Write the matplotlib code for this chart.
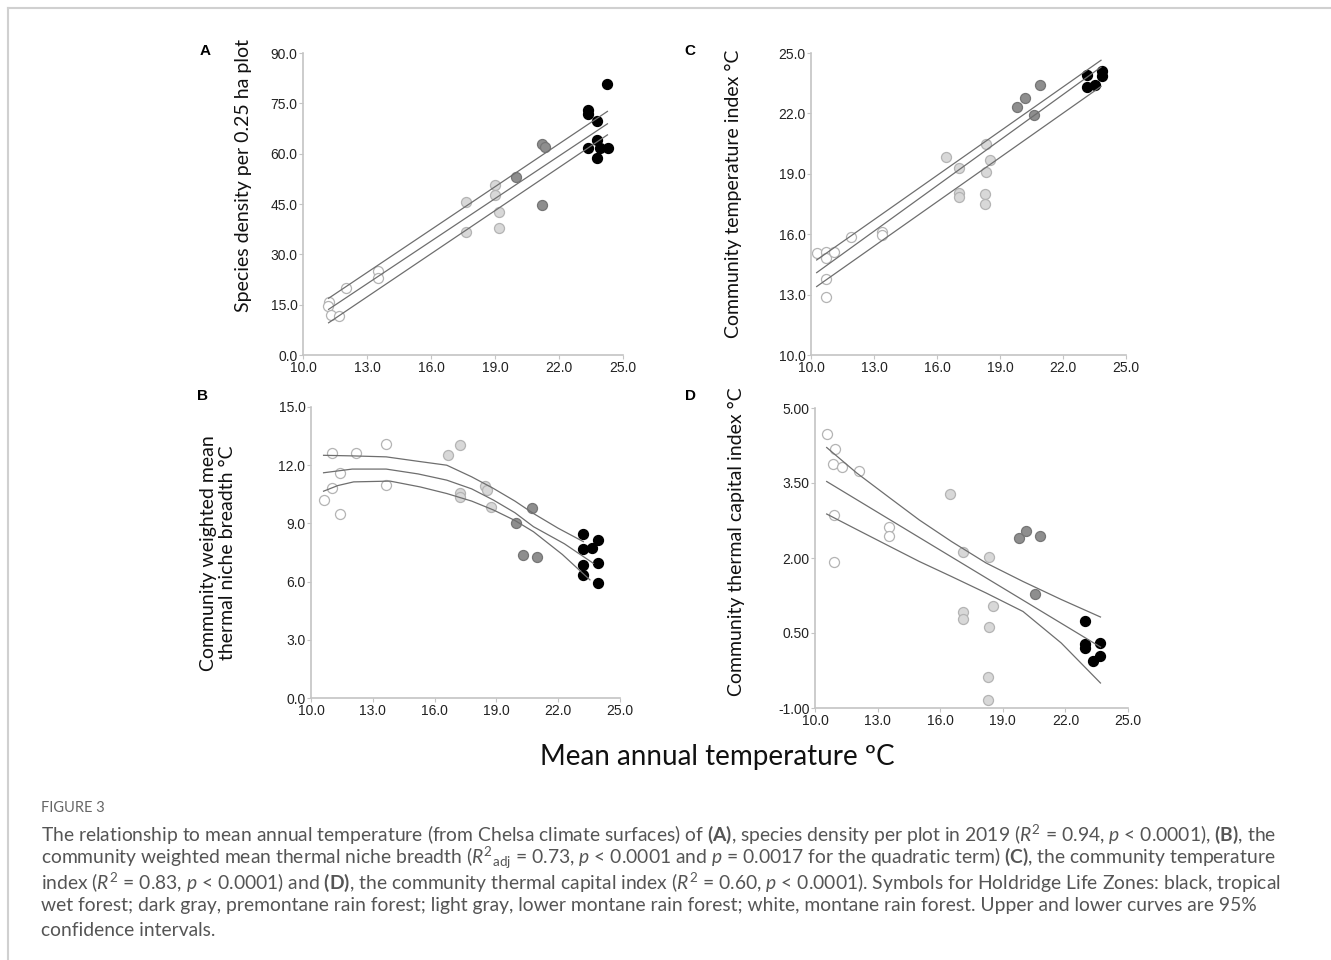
import matplotlib
matplotlib.use("Agg")
import matplotlib.pyplot as plt
import numpy as np
from matplotlib.lines import Line2D
from matplotlib.ticker import FormatStrFormatter

plt.rcParams['font.family'] = ['Liberation Sans', 'DejaVu Sans']
plt.rcParams['mathtext.fontset'] = 'custom'
plt.rcParams['mathtext.rm'] = 'Lato'
plt.rcParams['mathtext.it'] = 'Lato:italic'
plt.rcParams['mathtext.bf'] = 'Lato:bold'

# Holdridge life zones: w = montane (white), l = lower montane (light gray),
# d = premontane (dark gray), b = tropical wet (black)
ZONES = ['w', 'l', 'd', 'b']

# PANEL A - species density per 0.25 ha plot
a_temp = [11.24, 11.17, 11.32, 11.71, 12.02, 13.5, 13.5,
          17.62, 17.62, 18.98, 18.98, 19.17, 19.17,
          19.98, 21.19, 21.35, 21.19,
          23.37, 23.37, 23.76, 23.76, 23.37, 23.91, 24.30, 23.76, 24.27]
a_val = [15.9, 14.7, 11.9, 11.7, 19.9, 24.9, 22.9,
         45.7, 36.8, 50.7, 47.7, 42.7, 37.8,
         52.9, 62.9, 61.9, 44.7,
         72.9, 71.9, 69.8, 64.1, 61.8, 61.8, 61.8, 58.6, 80.8]
a_zone = ['w'] * 7 + ['l'] * 6 + ['d'] * 4 + ['b'] * 9
a_fit_x = [11.2, 24.27]
a_fit_mid = [13.6, 68.9]
a_fit_hi = [16.9, 72.6]
a_fit_lo = [9.6, 65.6]

# PANEL C - community temperature index
c_temp = [10.27, 10.70, 10.70, 11.11, 10.70, 10.70, 11.90, 13.39, 13.39,
          16.42, 17.03, 17.03, 17.03, 18.35, 18.54, 18.35, 18.27, 18.27,
          19.81, 20.17, 20.60, 20.91,
          23.13, 23.13, 23.50, 23.84, 23.84]
c_val = [15.06, 15.14, 14.81, 15.14, 13.76, 12.87, 15.88, 16.13, 15.97,
         19.83, 19.28, 18.07, 17.87, 20.49, 19.70, 19.07, 17.99, 17.49,
         22.30, 22.76, 21.90, 23.39,
         23.89, 23.31, 23.43, 24.12, 23.87]
c_zone = ['w'] * 9 + ['l'] * 9 + ['d'] * 4 + ['b'] * 5
c_fit_x = [10.27, 23.81]
c_fit_mid = [14.09, 24.30]
c_fit_hi = [14.72, 24.64]
c_fit_lo = [13.40, 23.34]

# PANEL B - community weighted mean thermal niche breadth
b_temp = [10.61, 11.02, 11.02, 11.39, 11.39, 12.20, 13.65, 13.65,
          16.64, 17.24, 17.24, 17.24, 18.45, 18.53, 18.73,
          19.96, 20.72, 20.31, 20.99,
          23.22, 23.22, 23.63, 23.95, 23.22, 23.22, 23.95, 23.95]
b_val = [10.23, 12.65, 10.85, 11.61, 9.51, 12.65, 13.11, 10.97,
         12.51, 13.03, 10.58, 10.37, 10.94, 10.71, 9.82,
         9.03, 9.81, 7.37, 7.25,
         8.43, 7.66, 7.71, 8.14, 6.86, 6.34, 6.98, 5.91]
b_zone = ['w'] * 8 + ['l'] * 7 + ['d'] * 4 + ['b'] * 8
b_mid_x = [10.61, 12.0, 13.65, 15.2, 16.59, 17.8, 18.86, 19.9, 20.80, 22.3, 23.71]
b_mid = [11.61, 11.80, 11.80, 11.55, 11.23, 10.78, 10.20, 9.55, 8.83, 7.95, 6.94]
b_hi_x = [10.61, 12.0, 13.65, 15.2, 16.59, 17.8, 18.86, 19.9, 20.80, 22.0, 23.22]
b_hi = [12.51, 12.48, 12.43, 12.20, 12.00, 11.40, 10.80, 10.15, 9.51, 8.75, 8.06]
b_lo_x = [10.61, 11.3, 12.07, 13.84, 15.3, 16.59, 17.8, 18.86, 19.9, 20.80, 22.2, 23.54]
b_lo = [10.66, 10.95, 11.14, 11.18, 10.88, 10.54, 10.15, 9.69, 9.15, 8.57, 7.40, 6.09]

# PANEL D - community thermal capital index
d_temp = [10.56, 10.96, 10.88, 11.31, 12.12, 10.93, 13.54, 13.54, 10.93,
          16.46, 17.07, 18.35, 17.07, 17.07, 18.54, 18.35, 18.27, 18.27,
          19.77, 20.13, 20.80, 20.53,
          22.96, 22.96, 22.96, 23.68, 23.32, 23.68]
d_val = [4.48, 4.18, 3.89, 3.83, 3.75, 2.87, 2.62, 2.45, 1.93,
         3.28, 2.12, 2.03, 0.93, 0.78, 1.05, 0.63, -0.37, -0.83,
         2.41, 2.55, 2.45, 1.28,
         0.75, 0.29, 0.21, 0.30, -0.05, 0.05]
d_zone = ['w'] * 9 + ['l'] * 9 + ['d'] * 4 + ['b'] * 6
d_mid_x = [10.56, 23.68]
d_mid = [3.53, 0.22]
d_band_x = [10.56, 12.0, 13.59, 15.0, 16.54, 18.2, 19.97, 21.8, 23.68]
d_hi = [4.21, 3.70, 3.20, 2.76, 2.33, 1.90, 1.53, 1.17, 0.82]
d_lo = [2.88, 2.57, 2.23, 1.93, 1.63, 1.30, 0.93, 0.30, -0.50]

zone_face = {'w': '#ffffff', 'l': '#d8d8d8', 'd': '#8e8e8e', 'b': '#000000'}
zone_edge = {'w': '#b4b4b4', 'l': '#b4b4b4', 'd': '#767676', 'b': '#000000'}

W, H = 1331, 960
fig = plt.figure(figsize=(W / 100, H / 100), dpi=100)


def box(left, right, top, bottom):
    return [left / W, 1 - bottom / H, (right - left) / W, (bottom - top) / H]


def panel(rect, xs, ys, zones, ylim, yticks, yfmt):
    ax = fig.add_axes(rect)
    xs = np.array(xs)
    ys = np.array(ys)
    zones = np.array(zones)
    for z in ZONES:
        m = zones == z
        ax.scatter(xs[m], ys[m], s=52, c=zone_face[z], edgecolors=zone_edge[z],
                   linewidths=0.9, zorder=2, clip_on=False)
    ax.set_xlim(10, 25)
    ax.set_ylim(*ylim)
    ax.set_xticks(np.arange(10, 25.1, 3))
    ax.set_yticks(yticks)
    ax.xaxis.set_major_formatter(FormatStrFormatter('%.1f'))
    ax.yaxis.set_major_formatter(FormatStrFormatter(yfmt))
    for s in ['top', 'right']:
        ax.spines[s].set_visible(False)
    for s in ['left', 'bottom']:
        ax.spines[s].set_color('#c4c4c4')
        ax.spines[s].set_linewidth(1.2)
    ax.tick_params(length=3, width=0.8, color='#c4c4c4', labelsize=10,
                   labelcolor='#222222', pad=1)
    return ax


line_kw = dict(color='#6e6e6e', lw=0.9, zorder=3)

ax_a = panel(box(303, 623, 53, 355), a_temp, a_val, a_zone, (0, 90),
             np.arange(0, 90.1, 15), '%.1f')
ax_a.plot(a_fit_x, a_fit_mid, **line_kw)
ax_a.plot(a_fit_x, a_fit_hi, **line_kw)
ax_a.plot(a_fit_x, a_fit_lo, **line_kw)

ax_c = panel(box(811, 1126, 53, 355), c_temp, c_val, c_zone, (10, 25),
             np.arange(10, 25.1, 3), '%.1f')
ax_c.plot(c_fit_x, c_fit_mid, **line_kw)
ax_c.plot(c_fit_x, c_fit_hi, **line_kw)
ax_c.plot(c_fit_x, c_fit_lo, **line_kw)

ax_b = panel(box(311, 620, 407, 698), b_temp, b_val, b_zone, (0, 15),
             np.arange(0, 15.1, 3), '%.1f')
ax_b.plot(b_mid_x, b_mid, **line_kw)
ax_b.plot(b_hi_x, b_hi, **line_kw)
ax_b.plot(b_lo_x, b_lo, **line_kw)

ax_d = panel(box(815, 1128, 408, 708), d_temp, d_val, d_zone, (-1, 5),
             np.arange(-1, 5.01, 1.5), '%.2f')
ax_d.plot(d_mid_x, d_mid, **line_kw)
ax_d.plot(d_band_x, d_hi, **line_kw)
ax_d.plot(d_band_x, d_lo, **line_kw)


def ftext(x, y, s, **kw):
    fig.text(x / W, 1 - y / H, s, **kw)


# panel letters
for lx, ly, letter in [(205, 51, 'A'), (690, 51, 'C'), (203, 396, 'B'), (690, 396, 'D')]:
    ftext(lx, ly, letter, fontsize=11, fontweight='bold', ha='center', va='center')

# y axis titles
ylab = dict(family='Lato', fontsize=14, rotation=90, ha='center', va='center', color='#111111')
ftext(244, 175, 'Species density per 0.25 ha plot', **ylab)
ftext(733, 194, 'Community temperature index \u00b0C', **ylab)
ftext(218, 553, 'Community weighted mean\nthermal niche breadth \u00b0C', linespacing=1.15, **ylab)
ftext(736, 542, 'Community thermal capital index \u00b0C', **ylab)

ftext(717, 757, 'Mean annual temperature \u00baC', family='Lato', fontsize=20,
      ha='center', va='center', color='#111111')

# caption
ftext(41, 808, 'FIGURE 3', family='Lato', fontsize=10.5, color='#666666', va='center')
cap = [
    r'The relationship to mean annual temperature (from Chelsa climate surfaces) of $\mathbf{(A)}$, species density per plot in 2019 ($R^2$ = 0.94, $p$ < 0.0001), $\mathbf{(B)}$, the',
    r'community weighted mean thermal niche breadth ($R^{2}{}_{\mathrm{adj}}$ = 0.73, $p$ < 0.0001 and $p$ = 0.0017 for the quadratic term) $\mathbf{(C)}$, the community temperature',
    r'index ($R^2$ = 0.83, $p$ < 0.0001) and $\mathbf{(D)}$, the community thermal capital index ($R^2$ = 0.60, $p$ < 0.0001). Symbols for Holdridge Life Zones: black, tropical',
    r'wet forest; dark gray, premontane rain forest; light gray, lower montane rain forest; white, montane rain forest. Upper and lower curves are 95%',
    r'confidence intervals.',
]
for i, line in enumerate(cap):
    ftext(41, 834 + 24 * i, line, family='Lato', fontsize=13.9, color='#555555', va='center')

# frame lines at top and left
fig.add_artist(Line2D([8 / W, 1], [1 - 8 / H, 1 - 8 / H], color='#d0d0d0', lw=1.5))
fig.add_artist(Line2D([8 / W, 8 / W], [0, 1 - 8 / H], color='#d0d0d0', lw=1.5))

fig.savefig('out.png', dpi=100)
